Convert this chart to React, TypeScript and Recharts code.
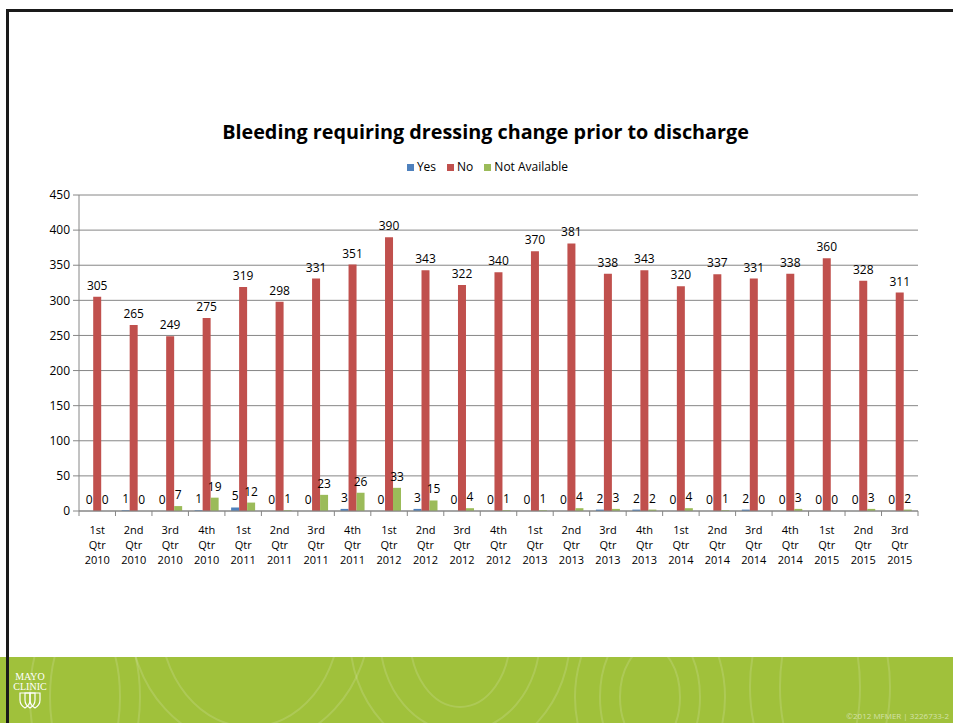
import { BarChart, Bar, XAxis, YAxis, CartesianGrid, Legend, LabelList } from "recharts"

const quarters = [
  "1st Qtr 2010", "2nd Qtr 2010", "3rd Qtr 2010", "4th Qtr 2010",
  "1st Qtr 2011", "2nd Qtr 2011", "3rd Qtr 2011", "4th Qtr 2011",
  "1st Qtr 2012", "2nd Qtr 2012", "3rd Qtr 2012", "4th Qtr 2012",
  "1st Qtr 2013", "2nd Qtr 2013", "3rd Qtr 2013", "4th Qtr 2013",
  "1st Qtr 2014", "2nd Qtr 2014", "3rd Qtr 2014", "4th Qtr 2014",
  "1st Qtr 2015", "2nd Qtr 2015", "3rd Qtr 2015",
]
const yes = [0, 1, 0, 1, 5, 0, 0, 3, 0, 3, 0, 0, 0, 0, 2, 2, 0, 0, 2, 0, 0, 0, 0]
const no = [305, 265, 249, 275, 319, 298, 331, 351, 390, 343, 322, 340, 370, 381, 338, 343, 320, 337, 331, 338, 360, 328, 311]
const notAvailable = [0, 0, 7, 19, 12, 1, 23, 26, 33, 15, 4, 1, 1, 4, 3, 2, 4, 1, 0, 3, 0, 3, 2]
const yTicks = [0, 50, 100, 150, 200, 250, 300, 350, 400, 450]

const data = quarters.map((q, i) => ({ q, yes: yes[i], no: no[i], na: notAvailable[i] }))

const FONT = "'Open Sans', sans-serif"
const AXIS = "#868686"
const W = 953
const MARGIN = { top: 195, right: 35, bottom: 29, left: 0 }
const Y_WIDTH = 79
const band = (W - MARGIN.right - Y_WIDTH) / quarters.length

const series = [
  { key: "yes", name: "Yes", color: "#4F81BD" },
  { key: "no", name: "No", color: "#C0504D" },
  { key: "na", name: "Not Available", color: "#9BBB59" },
]

function QuarterTick(props: any) {
  const { x, y, payload, index } = props
  const parts = String(payload.value).split(" ")
  return (
    <g>
      <line x1={x - band / 2} x2={x - band / 2} y1={y} y2={y + 5} stroke={AXIS} />
      {index === quarters.length - 1 && (
        <line x1={x + band / 2} x2={x + band / 2} y1={y} y2={y + 5} stroke={AXIS} />
      )}
      {parts.map((p, i) => (
        <text key={i} x={x} y={y + 23 + i * 15} textAnchor="middle" fontSize={11} fontFamily={FONT} fill="#000">
          {p}
        </text>
      ))}
    </g>
  )
}

function ValueLabel(props: any) {
  const { x, y, width, value } = props
  return (
    <text x={x + width / 2} y={y - 7} textAnchor="middle" fontSize={12} fontFamily={FONT} fill="#000">
      {value}
    </text>
  )
}

function LegendContent() {
  return (
    <div style={{ display: "flex", justifyContent: "center", fontFamily: FONT, fontSize: 12, color: "#000", lineHeight: "16px" }}>
      {series.map((s, i) => (
        <span key={s.key} style={{ display: "flex", alignItems: "center", marginRight: i < series.length - 1 ? 11 : 0 }}>
          <span style={{ width: 7, height: 7, background: s.color, display: "inline-block", marginRight: 3 }} />
          {s.name}
        </span>
      ))}
    </div>
  )
}

function Footer() {
  const shield = (cx: number) => `M${cx - 5} 36 h10 v7 q0 5 -5 8 q-5 -3 -5 -8 z`
  return (
    <svg width={W} height={66} style={{ position: "absolute", left: 0, top: 657 }}>
      <defs>
        <clipPath id="foot">
          <rect x={0} y={0} width={W} height={66} />
        </clipPath>
      </defs>
      <rect x={0} y={0} width={W} height={66} fill="#A0C13B" />
      <g clipPath="url(#foot)" fill="none" stroke="#ffffff" strokeOpacity={0.14} strokeWidth={2}>
        <ellipse cx={85} cy={40} rx={35} ry={80} />
        <ellipse cx={85} cy={40} rx={55} ry={100} />
        <ellipse cx={250} cy={-40} rx={90} ry={110} />
        <ellipse cx={250} cy={-40} rx={120} ry={130} />
        <ellipse cx={460} cy={-20} rx={50} ry={70} />
        <ellipse cx={460} cy={-20} rx={80} ry={95} />
        <ellipse cx={460} cy={-20} rx={110} ry={120} />
        <ellipse cx={650} cy={40} rx={30} ry={50} />
        <ellipse cx={650} cy={40} rx={50} ry={75} />
        <ellipse cx={650} cy={40} rx={75} ry={100} />
        <ellipse cx={820} cy={30} rx={40} ry={90} />
        <ellipse cx={820} cy={30} rx={70} ry={110} />
      </g>
      <text x={30} y={23} textAnchor="middle" fontFamily="'Liberation Serif', serif" fontSize={10} fill="#fff">MAYO</text>
      <text x={30} y={33} textAnchor="middle" fontFamily="'Liberation Serif', serif" fontSize={10} fill="#fff">CLINIC</text>
      <g fill="none" stroke="#fff" strokeWidth={1.2}>
        <path d={shield(25)} />
        <path d={shield(35)} />
        <path d={shield(30)} />
      </g>
      <text x={949} y={62} textAnchor="end" fontFamily={FONT} fontSize={8} fill="#ffffff" fillOpacity={0.55}>
        ©2012 MFMER | 3226733-2
      </text>
    </svg>
  )
}

export default function App() {
  return (
    <div style={{ position: "absolute", left: 0, top: 0, width: W, height: 723, background: "#fff", overflow: "hidden" }}>
      <div style={{ position: "absolute", left: 6, top: 9, width: W, height: 3, background: "#1a1a1a" }} />
      <div style={{ position: "absolute", left: 6, top: 9, width: 3, height: 723, background: "#1a1a1a", zIndex: 2 }} />
      <div
        style={{
          position: "absolute",
          left: 9,
          top: 118,
          width: W,
          textAlign: "center",
          fontFamily: FONT,
          fontWeight: 700,
          fontSize: 19.8,
          lineHeight: "28px",
          color: "#000",
        }}
      >
        Bleeding requiring dressing change prior to discharge
      </div>
      <div style={{ position: "absolute", left: 0, top: 0 }}>
        <BarChart width={W} height={600} data={data} margin={MARGIN} barCategoryGap="17%" barGap={0}>
          <CartesianGrid vertical={false} stroke={AXIS} />
          <XAxis
            dataKey="q"
            interval={0}
            stroke={AXIS}
            tickSize={0}
            tickMargin={0}
            height={60}
            tick={<QuarterTick />}
          />
          <YAxis
            width={Y_WIDTH}
            domain={[0, 450]}
            ticks={yTicks}
            stroke={AXIS}
            tickSize={6}
            tickMargin={3}
            tick={{ fontSize: 12, fontFamily: FONT, fill: "#000" }}
          />
          <Legend
            layout="horizontal"
            align="center"
            verticalAlign="middle"
            wrapperStyle={{ top: 159, left: 11, width: W }}
            content={<LegendContent />}
          />
          {series.map((s) => (
            <Bar
              key={s.key}
              dataKey={s.key}
              name={s.name}
              fill={s.color}
              minPointSize={0.01}
              isAnimationActive={false}
            >
              <LabelList dataKey={s.key} content={<ValueLabel />} />
            </Bar>
          ))}
        </BarChart>
      </div>
      <Footer />
    </div>
  )
}
